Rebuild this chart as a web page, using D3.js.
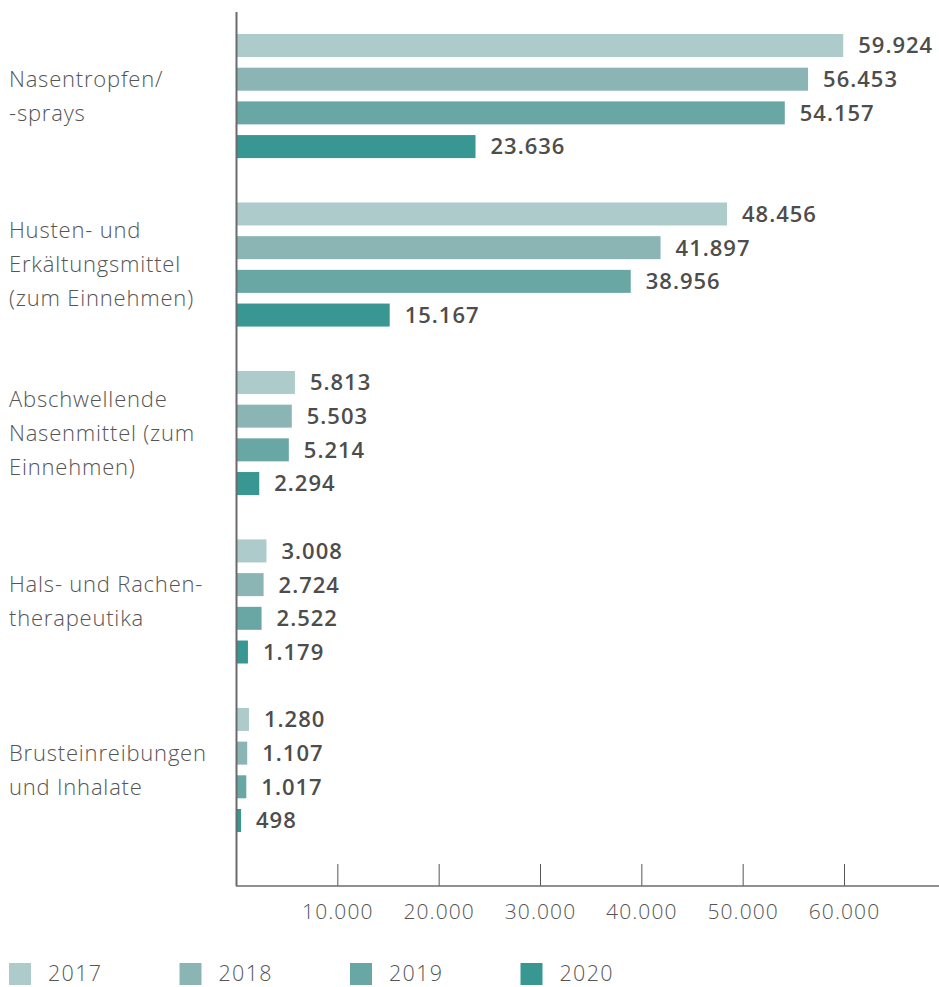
<!DOCTYPE html>
<html><head><meta charset="utf-8">
<script src="https://cdn.jsdelivr.net/npm/d3@7"></script>
<style>body{margin:0;background:#fff;}svg{display:block;}</style>
</head><body>
<script>
const categories = [
  ["Nasentropfen/", "-sprays"],
  ["Husten- und", "Erkältungsmittel", "(zum Einnehmen)"],
  ["Abschwellende", "Nasenmittel (zum", "Einnehmen)"],
  ["Hals- und Rachen-", "therapeutika"],
  ["Brusteinreibungen", "und Inhalate"]
];
const years = ["2017", "2018", "2019", "2020"];
const values2017 = [59924, 48456, 5813, 3008, 1280];
const values2018 = [56453, 41897, 5503, 2724, 1107];
const values2019 = [54157, 38956, 5214, 2522, 1017];
const values2020 = [23636, 15167, 2294, 1179, 498];
const tickValues = [10000, 20000, 30000, 40000, 50000, 60000];
const colors = ["#aecbcb", "#8bb5b4", "#69a7a5", "#389792"];

const series = [values2017, values2018, values2019, values2020];
const W = 939, H = 987;
const font = "'Open Sans', 'Noto Sans', sans-serif";
const fmt = v => d3.format(",")(v).replace(/,/g, ".");

const svg = d3.select("body").append("svg").attr("width", W).attr("height", H);

const x = d3.scaleLinear().domain([0, 60000]).range([236, 844]);
const catIdx = categories.map((d, i) => i);
const y0 = d3.scaleBand().domain(catIdx).range([34, 832]).paddingInner(0.2635).paddingOuter(0);
const y1 = d3.scaleBand().domain(years).range([0, y0.bandwidth()]).paddingInner(0.317).paddingOuter(0);

// bars
catIdx.forEach(ci => {
  const g = svg.append("g").attr("transform", `translate(0,${y0(ci)})`);
  years.forEach((yr, si) => {
    const v = series[si][ci];
    g.append("rect").attr("x", x(0)).attr("y", y1(yr))
      .attr("width", x(v) - x(0)).attr("height", y1.bandwidth())
      .attr("fill", colors[si]);
    g.append("text").attr("x", x(v) + 15).attr("y", y1(yr) + y1.bandwidth() / 2)
      .attr("dy", "0.36em").attr("font-family", font).attr("font-weight", 600)
      .attr("font-size", 22).attr("letter-spacing", 1).attr("fill", "#4d4d4d").text(fmt(v));
  });
  // category label
  const lines = categories[ci];
  const cy = y0(ci) + y0.bandwidth() / 2;
  const lh = 34;
  lines.forEach((t, li) => {
    svg.append("text").attr("x", 9).attr("y", cy + (li - (lines.length - 1) / 2) * lh)
      .attr("dy", "0.36em").attr("font-family", font).attr("font-weight", 300)
      .attr("font-size", 22).attr("letter-spacing", 0.8).attr("fill", "#555").text(t);
  });
});

// y axis line
svg.append("line").attr("x1", 236.5).attr("x2", 236.5).attr("y1", 12).attr("y2", 886)
  .attr("stroke", "#6b6b6b").attr("stroke-width", 2);

// x axis
const axisY = 886;
const xAxis = d3.axisBottom(x).tickValues(tickValues).tickSize(0).tickFormat(fmt);
const ax = svg.append("g").attr("transform", `translate(0,${axisY})`).call(xAxis);
ax.select(".domain").remove();
ax.selectAll(".tick text").attr("font-family", font).attr("font-weight", 300)
  .attr("font-size", 21).attr("letter-spacing", 1.1).attr("fill", "#555").attr("y", 18).attr("dy", "0.71em");
ax.selectAll(".tick").append("line").attr("y1", -22).attr("y2", 0)
  .attr("stroke", "#555").attr("stroke-width", 1);
svg.append("line").attr("x1", 236).attr("x2", 939).attr("y1", axisY).attr("y2", axisY)
  .attr("stroke", "#6b6b6b").attr("stroke-width", 1.5);

// legend
const legend = svg.append("g").attr("transform", "translate(9,963)");
years.forEach((yr, i) => {
  const lg = legend.append("g").attr("transform", `translate(${i * 170.5},0)`);
  lg.append("rect").attr("width", 22).attr("height", 22).attr("fill", colors[i]);
  lg.append("text").attr("x", 39).attr("y", 10).attr("dy", "0.36em")
    .attr("font-family", font).attr("font-weight", 300).attr("font-size", 21.5)
    .attr("letter-spacing", 1.3).attr("fill", "#555").text(yr);
});
</script>
</body></html>
